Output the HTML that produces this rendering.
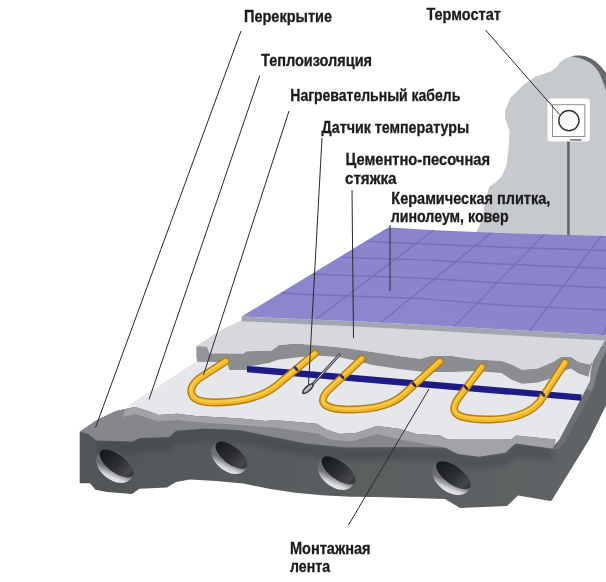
<!DOCTYPE html>
<html><head><meta charset="utf-8">
<style>
html,body{margin:0;padding:0;background:#fff;}
body{width:606px;height:582px;overflow:hidden;font-family:"Liberation Sans",sans-serif;}
svg{display:block}
text{font-family:"Liberation Sans",sans-serif;font-weight:bold;font-size:16px;fill:#1c1c1c;stroke:#1c1c1c;stroke-width:0.3px}
</style></head><body>
<svg width="606" height="582" viewBox="0 0 606 582">
<defs>
<filter id="b2" x="60" y="400" width="520" height="100" filterUnits="userSpaceOnUse"><feGaussianBlur stdDeviation="2.2"/></filter>
<filter id="soft" x="0" y="0" width="606" height="582" filterUnits="userSpaceOnUse"><feGaussianBlur stdDeviation="0.55"/></filter>
<linearGradient id="gSlab" x1="0" y1="0" x2="1" y2="0">
<stop offset="0" stop-color="#525658"/><stop offset="0.5" stop-color="#595d5f"/><stop offset="1" stop-color="#5f6365"/>
</linearGradient>
<linearGradient id="gTile" x1="0" y1="1" x2="1" y2="0">
<stop offset="0" stop-color="#8d87cf"/><stop offset="1" stop-color="#8983ca"/>
</linearGradient>
<linearGradient id="gRim" gradientUnits="userSpaceOnUse" x1="-3.4" y1="-13" x2="3.4" y2="13">
<stop offset="0" stop-color="#5e6064"/><stop offset="0.6" stop-color="#6e7074"/><stop offset="0.73" stop-color="#999b9e"/><stop offset="0.87" stop-color="#d2d3d5"/><stop offset="1" stop-color="#ebebed"/>
</linearGradient>
<linearGradient id="gHole" gradientUnits="userSpaceOnUse" x1="-20" y1="-3" x2="20" y2="3">
<stop offset="0" stop-color="#16181c"/><stop offset="0.55" stop-color="#2e3034"/><stop offset="0.85" stop-color="#46484c"/><stop offset="1" stop-color="#2c2e32"/>
</linearGradient>
<clipPath id="cTile"><path d="M241.5,316.5 L386,228.8 Q388,227.4 391,227.6 L430,230 L500,233 L606,236 L606,335.2 L526,330.8 L430,325.2 L360,321.5 Z"/></clipPath>
</defs>
<rect width="606" height="582" fill="#fff"/>
<g filter="url(#soft)">

<!-- WALL -->
<g id="wall">
<path d="M472,240 L477,230.5 L480,224.3 L483.2,212 L486.3,196.4 L489.4,186.4 L495.6,182.5 L501.8,176.3 L506.4,165.5 L508.5,150 L509.5,131 L505,118 L505.2,110 L510.5,97.7 L522.7,85.5 L535,76.7 L550.7,71.5 L557.7,66.2 L559.5,62.7 Q565,58 571,56.3 Q578,54.8 586,56.6 Q597,60 606,73 L606,245 Z" fill="#c6c9cd"/>
<path d="M574,55.8 Q580,55 586,56.6 Q597,60 606,73 L606,91 Q602.5,79 598.2,71.2 Q593.5,64.5 587.5,61.3 Q581,57.6 572,56.2 Z" fill="#66686c"/>
<line x1="568.4" y1="141" x2="568.4" y2="236" stroke="#65676b" stroke-width="2.6"/>
<rect x="547.4" y="98.5" width="42.5" height="43.1" rx="3.5" fill="#fcfcfc"/>
<rect x="552.5" y="104.7" width="32.3" height="31.8" fill="#fff" stroke="#8d8f92" stroke-width="1"/>
<circle cx="568.9" cy="120.6" r="10.1" fill="#fbfbfb" stroke="#333" stroke-width="1.4"/>
<rect x="570" y="139.3" width="11.4" height="1.3" fill="#5a5a5e"/>
</g>

<!-- SLAB right side -->
<path d="M550,500.5 L552,500 L589,440 L606,405.5 L606,339 L601.5,345.7 L593,361 L590.5,372 L590,381 L575,410 L559,440 L551,449 Z" fill="#5f6366"/>
<path d="M590,381 L575,410 L559,440 L551,449 L558.5,449.5 L566,440 L582,410 L596,383 Z" fill="#6c7073"/>
<path d="M606,339 L601.5,345.7 L593,361 L590.5,372 L590,381 L586,389 L592,391 L597.5,372 L601,361 L606,351 Z" fill="#828588"/>

<!-- INSULATION top -->
<path d="M127,406.5 L197,361 L250,330 L606,345 L601.5,345.7 L593,361 L590.5,372 L590,381 L575,410 L559,440 L556,439.6 L516,435.6 L511,439.6 L466,439.6 L447.5,439.6 L440,435.6 L416,434 L400,429 L377,426 L356,433 L340,434 L327,430 L316.5,423.7 L274,420 L266,421 L240,418.5 L195.5,416 L177,413.7 L158.6,415 L148,411 L135,407 Z" fill="#e6e7eb"/>

<!-- SLAB front (dark) -->
<path d="M79.7,431.8 L97,420 L116,411 L135,407 L148,411 L158.6,415 L177,413.7 L195.5,416 L240,418.5 L266,421 L274,420 L316.5,423.7 L327,430 L340,434 L356,433 L377,426 L400,429 L416,434 L440,435.6 L447.5,439.6 L466,439.6 L511,439.6 L516,435.6 L556,439.6 L553,449 L552,500 L550.5,501 L518,495.4 L507,506 L460,508 L445,499 L376,497 L350,496.7 L322,495.3 L295.5,492.7 L269,488.7 L243,483.5 L216,481 L190,479.5 L176,482 L167,487.6 L139.4,488.7 L132,494 L107,492 L95.4,489.7 L90,483.3 L79.7,483.3 Z" fill="url(#gSlab)"/>
<!-- darker upper shade on blocks -->
<path d="M96.5,440.4 L133,441.5 L139.4,438 L169.4,437 L176,430.7 L205,428.6 L240,430 L266,435.6 L306,443.5 L345.5,447.5 L400,447 L445,447.5 L458,454 L479,456.7 L505.5,452.8 L513.5,445 L516,443.5 L553,448.8 L553,461.8 L516,456.5 L513.5,458 L505.5,465.8 L479,469.7 L458,467 L445,460.5 L400,460 L345.5,460.5 L306,456.5 L266,448.6 L240,443 L205,441.6 L176,443.7 L169.4,450 L139.4,451 L133,454.5 L96.5,453.4 Z" fill="#3a3c40" opacity="0.38" filter="url(#b2)"/>

<!-- band b: slab chamfer (mid gray) -->
<path d="M79.7,431.8 L97,420 L116,411 L135,407 L148,411 L158.6,415 L177,413.7 L195.5,416 L240,418.5 L266,421 L274,420 L316.5,423.7 L327,430 L340,434 L356,433 L377,426 L400,429 L416,434 L440,435.6 L447.5,439.6 L445,447.5 L400,447 L345.5,447.5 L306,443.5 L266,435.6 L240,430 L205,428.6 L176,430.7 L169.4,437 L139.4,438 L133,441.5 L96.5,440.4 L88,434 Z" fill="#85878b"/>
<!-- band a: insulation front (lighter gray) -->
<path d="M126,409 L135,407 L148,411 L158.6,415 L177,413.7 L195.5,416 L240,418.5 L266,421 L274,420 L316.5,423.7 L327,430 L340,434 L356,433 L377,426 L400,429 L416,434 L440,435.6 L447.5,439.6 L466,439.6 L511,439.6 L516,435.6 L556,439.6 L553,448.8 L516,443.5 L513.5,445 L505.5,452.8 L479,456.7 L458,454 L445,447.5 L400,439.6 L377,434 L351,441.5 L330,439.6 L319,434 L277,427.7 L240,425 L195.5,422 L177,420 L158.6,421.5 L148,418 L135,414 L122,417 Z" fill="#a1a3a7"/>

<!-- holes -->
<g id="holes">
<g transform="translate(114.5,466.5) rotate(37)"><ellipse rx="20.5" ry="13.5" fill="url(#gRim)"/></g>
<g transform="translate(116.5,463.5) rotate(37)"><ellipse rx="20" ry="9" fill="url(#gHole)"/></g>
<g transform="translate(229,458) rotate(38)"><ellipse rx="20" ry="13" fill="url(#gRim)"/></g>
<g transform="translate(231.5,455.2) rotate(38)"><ellipse rx="19" ry="8.8" fill="url(#gHole)"/></g>
<g transform="translate(336,473.5) rotate(37)"><ellipse rx="20.5" ry="13.5" fill="url(#gRim)"/></g>
<g transform="translate(338.5,470.4) rotate(37)"><ellipse rx="20" ry="9" fill="url(#gHole)"/></g>
<g transform="translate(451,478.5) rotate(36)"><ellipse rx="21" ry="13.5" fill="url(#gRim)"/></g>
<g transform="translate(453.5,475.2) rotate(36)"><ellipse rx="20.3" ry="9" fill="url(#gHole)"/></g>
</g>

<!-- SCREED front face -->
<path d="M196.6,346.2 L207,346.6 L209.5,353.2 L244,353.6 L246,351.3 L271.6,350.5 L279,345 L296,343.6 L320,345.5 L346.4,348 L372.8,352 L399,356 L420,358.7 L431,356 L452,356 L475.7,359.5 L501.5,360.7 L511.8,364.6 L522,369.7 L537.5,368.5 L553,362 L560.7,357 L571,357 L578.7,362 L590,364.6 L593,361 L589.5,371.5 L588.5,376.8 L578.7,373.6 L571,368.6 L563,371 L550,378.8 L537.5,382.6 L522,383.8 L511.8,379.8 L501.5,373 L475.7,371 L452,372 L425.5,372 L399,369 L372.8,365 L355,360.5 L337,356.8 L319.3,355.8 L300,357 L277.7,359.8 L269.8,362.7 L252,366 L247.5,366.5 L247,370 L229.5,370 L227,362.5 L207.5,361.8 L197.2,361.4 L196.6,357 Z" fill="#8b8d91"/>

<path d="M196.6,346.2 L207,346.6 L208.5,353.2 L207.5,361.8 L197.2,361.4 L196.6,357 Z" fill="#93959a"/>
<!-- SCREED top -->
<path d="M196,346 L225,328 L241.5,320.5 L606,339.5 L601.5,345.7 L593,361 L590,364.6 L578.7,362 L571,357 L560.7,357 L553,362 L537.5,368.5 L522,369.7 L511.8,364.6 L501.5,360.7 L475.7,359.5 L452,356 L431,356 L420,358.7 L399,356 L372.8,352 L346.4,348 L320,345.5 L296,343.6 L279,345 L271.6,350.5 L246,351.3 L244,353.6 L209.5,353.2 L207,346.6 L196.6,346.2 Z" fill="#d6d8dc"/>

<!-- STRIP -->
<path d="M247,365.9 L581.8,394.4 L581.2,400.8 L247,372.2 Z" fill="#1b1a84"/>

<!-- CABLES -->
<g fill="none" stroke-linecap="round" stroke-linejoin="round">
<g stroke="#b17c16" stroke-width="7.8">
<path d="M225.8,361.3 L199,378.5 Q188,387.5 192.5,396 Q197,402.5 215,402.5 Q256,402 276,386 L315,353.5"/>
<path d="M362,358.7 L328,390.5 Q319,400.5 326,405.5 Q334,410 352,409.5 Q387,409 403,395 L440,361.4"/>
<path d="M482,367 L458.5,398 Q450,410 458,415 Q466,419.5 490,419.5 Q525,419 539.5,402 L565,362.8"/>
</g>
<g stroke="#f3b72a" stroke-width="5.2">
<path d="M225.8,361.3 L199,378.5 Q188,387.5 192.5,396 Q197,402.5 215,402.5 Q256,402 276,386 L315,353.5"/><path d="M362,358.7 L328,390.5 Q319,400.5 326,405.5 Q334,410 352,409.5 Q387,409 403,395 L440,361.4"/><path d="M482,367 L458.5,398 Q450,410 458,415 Q466,419.5 490,419.5 Q525,419 539.5,402 L565,362.8"/>
</g>
<g stroke="#ffd45a" stroke-width="1.6" transform="translate(-0.4,-0.9)" opacity="0.8">
<path d="M225.8,361.3 L199,378.5 Q188,387.5 192.5,396 Q197,402.5 215,402.5 Q256,402 276,386 L315,353.5"/><path d="M362,358.7 L328,390.5 Q319,400.5 326,405.5 Q334,410 352,409.5 Q387,409 403,395 L440,361.4"/><path d="M482,367 L458.5,398 Q450,410 458,415 Q466,419.5 490,419.5 Q525,419 539.5,402 L565,362.8"/>
</g>
</g>
<!-- strip ties (dark crossings) -->
<g fill="#1c1a56" opacity="0.85">
<ellipse cx="296" cy="368.6" rx="1.5" ry="3.1" transform="rotate(-40 296 368.6)"/>
<ellipse cx="342" cy="376.6" rx="1.5" ry="3.1" transform="rotate(-43 342 376.6)"/>
<ellipse cx="414" cy="384.4" rx="1.5" ry="3.1" transform="rotate(-43 414 384.4)"/>
<ellipse cx="466" cy="387.6" rx="1.5" ry="3.1" transform="rotate(-37 466 387.6)"/>
<ellipse cx="543" cy="394.2" rx="1.5" ry="3.1" transform="rotate(-34 543 394.2)"/>
</g>

<!-- sensor -->
<g stroke-linecap="round">
<line x1="311" y1="386" x2="339.5" y2="354.6" stroke="#45474b" stroke-width="2.8"/>
<line x1="311" y1="386" x2="339.5" y2="354.6" stroke="#c4c6ca" stroke-width="1"/>
<g transform="translate(308,388.6) rotate(-42)"><ellipse rx="7.6" ry="3.1" fill="#35373b"/><ellipse rx="5.8" ry="1.6" fill="#b9bbbf"/></g>
</g>

<!-- TILE -->
<path d="M241.5,316.5 L360,321.5 L430,325.2 L526,330.8 L606,335.2 L606,340.6 L526,336.2 L430,330.6 L360,326.8 L241.5,321.2 Z" fill="#a3a5b1"/>
<path d="M241.5,316.5 L386,228.8 Q388,227.4 391,227.6 L430,230 L500,233 L606,236 L606,335.2 L526,330.8 L430,325.2 L360,321.5 Z" fill="url(#gTile)"/>
<g clip-path="url(#cTile)" stroke="#6a62b2" stroke-width="1.5" fill="none" opacity="0.6" stroke-linecap="round">
<path d="M368,241.6 L420,243.8 L500,247 L606,250.5"/>
<path d="M343,257.5 L420,259.7 L500,264 L606,268.6"/>
<path d="M313,274.3 L420,278 L500,283 L606,287.8"/>
<path d="M281,292.5 L300,294.3 L420,298.6 L500,305 L606,310"/>
<path d="M314.5,320.5 L433,230.5"/>
<path d="M379.5,323.5 L492.5,231.8"/>
<path d="M453.3,327.5 L545,233.8"/>
<path d="M528.8,331.8 L601.3,235.8"/>
<path d="M602,335.5 L615,311"/>
</g>

<!-- LEADER LINES -->
<g stroke="#2a2a2a" stroke-width="1" fill="none">
<line x1="241" y1="31" x2="95.5" y2="427.5"/>
<line x1="259.8" y1="75.5" x2="149" y2="399.5"/>
<line x1="289" y1="111" x2="203.5" y2="375"/>
<line x1="322" y1="138" x2="308.5" y2="385"/>
<line x1="352" y1="190" x2="353.5" y2="338"/>
<line x1="390" y1="225" x2="390" y2="291"/>
<line x1="485.5" y1="30" x2="559.5" y2="114.5"/>
<line x1="348.5" y1="525" x2="429" y2="389"/>
</g>

<!-- LABELS -->
<g>
<text x="244" y="22.2" textLength="88" lengthAdjust="spacingAndGlyphs">Перекрытие</text>
<text x="426.4" y="20.1" textLength="74.5" lengthAdjust="spacingAndGlyphs">Термостат</text>
<text x="261" y="65.6" textLength="111" lengthAdjust="spacingAndGlyphs">Теплоизоляция</text>
<text x="290.3" y="101" textLength="170" lengthAdjust="spacingAndGlyphs">Нагревательный кабель</text>
<text x="321.6" y="132.8" textLength="147.5" lengthAdjust="spacingAndGlyphs">Датчик температуры</text>
<text x="345.5" y="165.2" textLength="144.5" lengthAdjust="spacingAndGlyphs">Цементно-песочная</text>
<text x="345" y="184.3" textLength="51.5" lengthAdjust="spacingAndGlyphs">стяжка</text>
<text x="391.3" y="204" textLength="159" lengthAdjust="spacingAndGlyphs">Керамическая плитка,</text>
<text x="390.7" y="221.6" textLength="118" lengthAdjust="spacingAndGlyphs">линолеум, ковер</text>
<text x="290" y="554.3" textLength="80.5" lengthAdjust="spacingAndGlyphs">Монтажная</text>
<text x="290" y="571.8" textLength="40" lengthAdjust="spacingAndGlyphs">лента</text>
</g>
</g>
</svg>
</body></html>
